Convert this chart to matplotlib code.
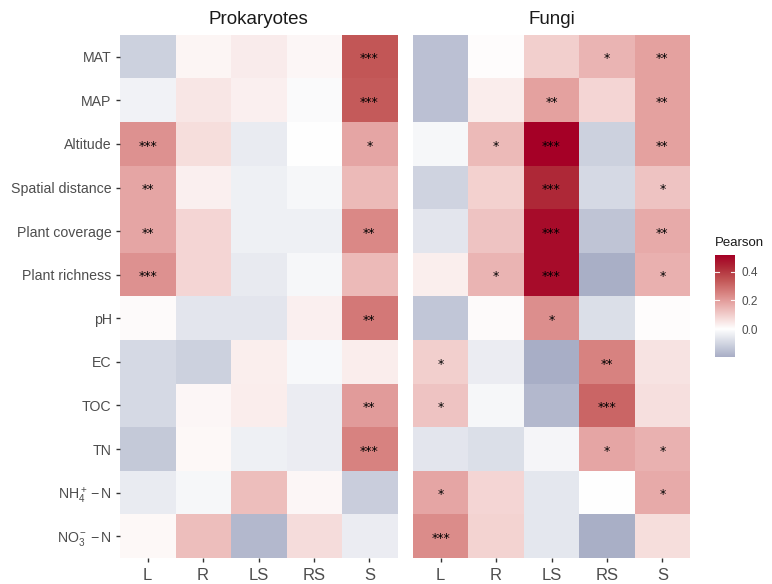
import numpy as np
import matplotlib
matplotlib.use("Agg")
import matplotlib.pyplot as plt
from matplotlib.colors import LinearSegmentedColormap, Normalize

plt.rcParams['font.family'] = ['Liberation Sans', 'DejaVu Sans']
plt.rcParams['mathtext.fontset'] = 'custom'
plt.rcParams['mathtext.rm'] = 'Liberation Sans'
plt.rcParams['mathtext.it'] = 'Liberation Sans:italic'
plt.rcParams['mathtext.bf'] = 'Liberation Sans:bold'

variables = ["MAT", "MAP", "Altitude", "Spatial distance", "Plant coverage",
             "Plant richness", "pH", "EC", "TOC", "TN",
             r"$\mathregular{NH_4^+ - N}$", r"$\mathregular{NO_3^- - N}$"]
compartments = ["L", "R", "LS", "RS", "S"]
panels = ["Prokaryotes", "Fungi"]

prok_r = [
    [-0.11, 0.02, 0.04, 0.018, 0.34],
    [-0.03, 0.05, 0.03, -0.01, 0.33],
    [0.22, 0.067, -0.047, 0.0, 0.18],
    [0.18, 0.03, -0.034, -0.02, 0.14],
    [0.18, 0.083, -0.034, -0.034, 0.24],
    [0.22, 0.083, -0.05, -0.02, 0.14],
    [0.01, -0.06, -0.06, 0.03, 0.27],
    [-0.09, -0.11, 0.035, -0.016, 0.038],
    [-0.09, 0.018, 0.038, -0.043, 0.20],
    [-0.13, 0.016, -0.034, -0.043, 0.25],
    [-0.047, -0.018, 0.13, 0.018, -0.12],
    [0.014, 0.13, -0.17, 0.069, -0.043],
]
prok_sig = [
    ["", "", "", "", "***"],
    ["", "", "", "", "***"],
    ["***", "", "", "", "*"],
    ["**", "", "", "", ""],
    ["**", "", "", "", "**"],
    ["***", "", "", "", ""],
    ["", "", "", "", "**"],
    ["", "", "", "", ""],
    ["", "", "", "", "**"],
    ["", "", "", "", "***"],
    ["", "", "", "", ""],
    ["", "", "", "", ""],
]
fungi_r = [
    [-0.15, 0.006, 0.097, 0.15, 0.19],
    [-0.15, 0.038, 0.19, 0.083, 0.19],
    [-0.02, 0.14, 0.516, -0.11, 0.19],
    [-0.105, 0.093, 0.43, -0.09, 0.12],
    [-0.06, 0.12, 0.49, -0.14, 0.17],
    [0.035, 0.15, 0.49, -0.19, 0.16],
    [-0.135, 0.01, 0.225, -0.078, 0.006],
    [0.097, -0.045, -0.195, 0.25, 0.057],
    [0.12, -0.02, -0.17, 0.31, 0.065],
    [-0.06, -0.076, -0.022, 0.18, 0.155],
    [0.18, 0.083, -0.058, 0.0, 0.17],
    [0.23, 0.09, -0.058, -0.19, 0.067],
]
fungi_sig = [
    ["", "", "", "*", "**"],
    ["", "", "**", "", "**"],
    ["", "*", "***", "", "**"],
    ["", "", "***", "", "*"],
    ["", "", "***", "", "**"],
    ["", "*", "***", "", "*"],
    ["", "", "*", "", ""],
    ["*", "", "", "**", ""],
    ["*", "", "", "***", ""],
    ["", "", "", "*", "*"],
    ["*", "", "", "", "*"],
    ["***", "", "", "", ""],
]

vmin, vmax = -0.195, 0.516
span = vmax - vmin
def pos(v):
    return (v - vmin) / span

def c(r, g, b):
    return (r/255, g/255, b/255)

nodes = [
    (pos(-0.195), c(168, 174, 198)),
    (pos(-0.10), c(210, 214, 226)),
    (pos(0.0), c(255, 255, 255)),
    (pos(0.10), c(242, 206, 204)),
    (pos(0.18), c(230, 166, 165)),
    (pos(0.25), c(216, 131, 129)),
    (pos(0.34), c(195, 87, 87)),
    (pos(0.43), c(175, 42, 56)),
    (pos(0.49), c(168, 13, 43)),
    (1.0, c(165, 0, 38)),
]
nodes[0] = (0.0, nodes[0][1])
cmap = LinearSegmentedColormap.from_list("pearson", nodes)
norm = Normalize(vmin=vmin, vmax=vmax)

W, H = 772, 584
fig = plt.figure(figsize=(W/100, H/100), dpi=100)

grey_txt = "#4D4D4D"
ax_pos = [(120, 397), (413, 690)]
top, bot = 35, 558
datasets = [(prok_r, prok_sig), (fungi_r, fungi_sig)]

for i, ((x0, x1), (vals, sig), title) in enumerate(zip(ax_pos, datasets, panels)):
    ax = fig.add_axes([x0/W, 1 - bot/H, (x1-x0)/W, (bot-top)/H])
    arr = np.array(vals)
    ax.imshow(arr, cmap=cmap, norm=norm, aspect='auto', interpolation='nearest')
    for r in range(arr.shape[0]):
        for cc in range(arr.shape[1]):
            if sig[r][cc]:
                ax.text(cc, r + 0.05, sig[r][cc], ha='center', va='center',
                        fontsize=9, color='black', family='DejaVu Sans')
    for s in ax.spines.values():
        s.set_visible(False)
    ax.set_xticks(range(len(compartments)))
    ax.set_xticklabels(compartments, fontsize=12, color=grey_txt)
    ax.tick_params(axis='x', length=3, width=1, color='#333333', pad=4)
    ax.set_title(title, fontsize=13.5, color='#1A1A1A', pad=8)
    if i == 0:
        ax.set_yticks(range(len(variables)))
        ax.set_yticklabels(variables, fontsize=10.2, color=grey_txt)
        ax.tick_params(axis='y', length=3, width=1, color='#333333', pad=3)
    else:
        ax.set_yticks([])

# colorbar
cax = fig.add_axes([715/W, 1 - 357/H, 20/W, 102/H])
grad = np.linspace(vmin, vmax, 256).reshape(-1, 1)
cax.imshow(grad, cmap=cmap, norm=norm, aspect='auto', origin='lower',
           extent=[0, 1, vmin, vmax])
for s in cax.spines.values():
    s.set_visible(False)
cax.set_xticks([])
ticks = [0.0, 0.2, 0.4]
cax.set_yticks(ticks)
cax.set_yticklabels(["0.0", "0.2", "0.4"], fontsize=8.5, color=grey_txt)
cax.yaxis.tick_right()
cax.tick_params(axis='y', length=0, pad=5)
for t in ticks:
    cax.plot([0, 0.2], [t, t], color='white', lw=0.8, alpha=0.9)
    cax.plot([0.8, 1], [t, t], color='white', lw=0.8, alpha=0.9)
cax.set_xlim(0, 1)
cax.set_ylim(vmin, vmax)
fig.text(715/W, 1 - 243/H, "Pearson", fontsize=9.5, color='#1A1A1A',
         ha='left', va='center')

fig.savefig("out.png", dpi=100, facecolor='white')
